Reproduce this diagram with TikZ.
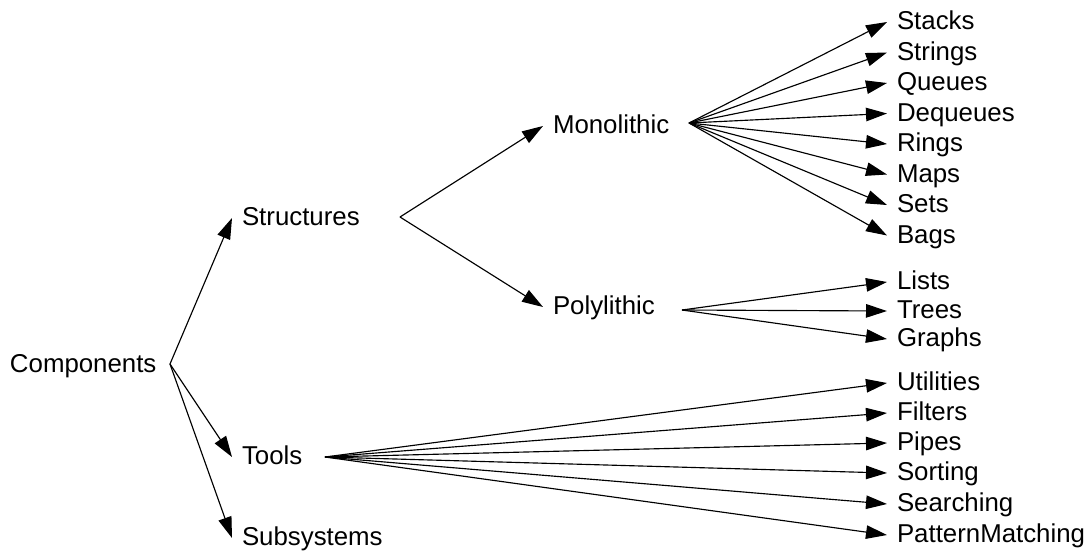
\documentclass[tikz,border=0pt]{standalone}
\usepackage{fontspec}
\setmainfont{Liberation Sans}
\usepackage{tikz}
\usetikzlibrary{arrows.meta}

\begin{document}
\begin{tikzpicture}[x=0.02cm,y=-0.02cm,line width=0.65pt,
        item/.style={anchor=west,inner xsep=0.2cm,inner ysep=0pt,outer sep=0pt,
            text height=0.86em,text depth=0pt,font=\fontsize{14.7}{17}\selectfont},
        link/.style={-{Triangle[length=0.42cm,width=0.27cm]}}]
        \useasboundingbox (0,0) rectangle (1092,552);

        \node[item] (comp) at (0,365) {Components};
        \node[item] (struct) at (232,218) {Structures};
        \node[item] (tools) at (232,457) {Tools};
        \node[item] (subsys) at (232,538) {Subsystems};

        \node[item] (mono) at (543,126) {Monolithic};
        \node[item] (poly) at (543,307) {Polylithic};

        \node[item] (stacks) at (887,22) {Stacks};
        \node[item] (strings) at (887,52.5) {Strings};
        \node[item] (queues) at (887,83) {Queues};
        \node[item] (dequeues) at (887,113.5) {Dequeues};
        \node[item] (rings) at (887,144) {Rings};
        \node[item] (maps) at (887,174.5) {Maps};
        \node[item] (sets) at (887,205) {Sets};
        \node[item] (bags) at (887,235.5) {Bags};

        \node[item] (lists) at (887,282) {Lists};
        \node[item] (trees) at (887,311) {Trees};
        \node[item] (graphs) at (887,339) {Graphs};

        \node[item] (util) at (887,383) {Utilities};
        \node[item] (filters) at (887,413) {Filters};
        \node[item] (pipes) at (887,443) {Pipes};
        \node[item] (sorting) at (887,473) {Sorting};
        \node[item] (search) at (887,504) {Searching};
        \node[item] (pattern) at (887,535) {PatternMatching};

        \coordinate (comp-fan) at (170,364);
        \coordinate (struct-fan) at (400,217);
        \coordinate (mono-fan) at (689,123);
        \coordinate (poly-fan) at (682,310);
        \coordinate (tools-fan) at (325,457);

        \draw[link] (comp-fan)--(struct.west);
        \draw[link] (comp-fan)--(tools.west);
        \draw[link] (comp-fan)--(subsys.west);

        \draw[link] (struct-fan)--(mono.west);
        \draw[link] (struct-fan)--(poly.west);

        \draw[link] (mono-fan)--(stacks.west);
        \draw[link] (mono-fan)--(strings.west);
        \draw[link] (mono-fan)--(queues.west);
        \draw[link] (mono-fan)--(dequeues.west);
        \draw[link] (mono-fan)--(rings.west);
        \draw[link] (mono-fan)--(maps.west);
        \draw[link] (mono-fan)--(sets.west);
        \draw[link] (mono-fan)--(bags.west);

        \draw[link] (poly-fan)--(lists.west);
        \draw[link] (poly-fan)--(trees.west);
        \draw[link] (poly-fan)--(graphs.west);

        \draw[link] (tools-fan)--(util.west);
        \draw[link] (tools-fan)--(filters.west);
        \draw[link] (tools-fan)--(pipes.west);
        \draw[link] (tools-fan)--(sorting.west);
        \draw[link] (tools-fan)--(search.west);
        \draw[link] (tools-fan)--(pattern.west);
    \end{tikzpicture}
\end{document}
